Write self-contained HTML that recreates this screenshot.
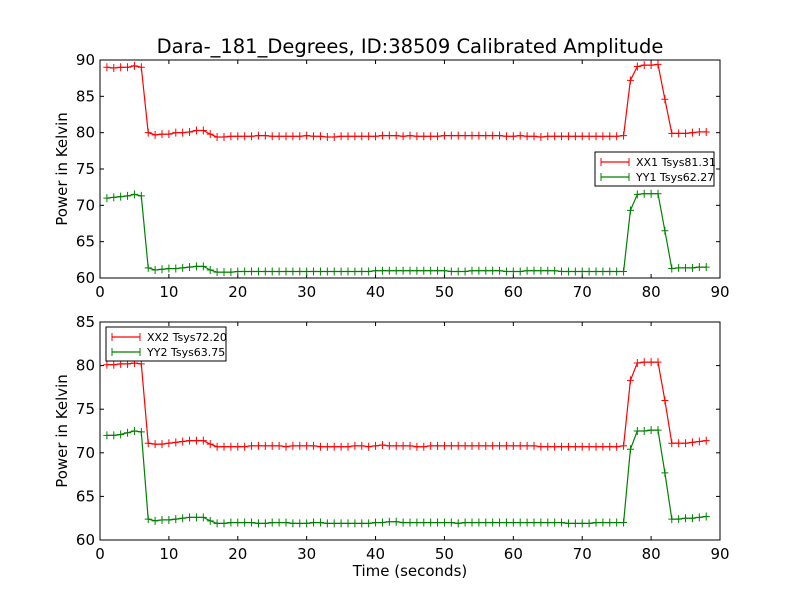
<!DOCTYPE html>
<html><head><meta charset="utf-8"><style>
body{margin:0;background:#fff;}
svg{display:block;font-family:"DejaVu Sans","Liberation Sans",sans-serif;}
</style></head><body>
<svg id="c" width="800" height="600"></svg>
<script>
const times=[1,2,3,4,5,6,7,8,9,10,11,12,13,14,15,16,17,18,19,20,21,22,23,24,25,26,27,28,29,30,31,32,33,34,35,36,37,38,39,40,41,42,43,44,45,46,47,48,49,50,51,52,53,54,55,56,57,58,59,60,61,62,63,64,65,66,67,68,69,70,71,72,73,74,75,76,77,78,79,80,81,82,83,84,85,86,87,88];
const xx1=[89.0,88.9,89.0,89.0,89.2,89.0,80.0,79.7,79.8,79.8,80.0,80.0,80.1,80.3,80.3,79.8,79.4,79.4,79.5,79.5,79.5,79.5,79.6,79.6,79.5,79.5,79.5,79.5,79.5,79.6,79.5,79.5,79.4,79.4,79.5,79.5,79.5,79.5,79.5,79.5,79.6,79.6,79.6,79.5,79.6,79.5,79.5,79.5,79.5,79.6,79.6,79.6,79.6,79.6,79.6,79.6,79.6,79.6,79.5,79.5,79.6,79.5,79.5,79.4,79.5,79.5,79.5,79.5,79.5,79.5,79.5,79.5,79.5,79.5,79.5,79.6,87.2,89.1,89.3,89.3,89.4,84.6,79.9,79.9,79.9,80.0,80.1,80.1];
const yy1=[71.0,71.1,71.2,71.3,71.5,71.3,61.4,61.1,61.2,61.3,61.3,61.4,61.5,61.6,61.6,61.1,60.8,60.8,60.8,60.9,60.9,60.9,60.9,60.9,60.9,60.9,60.9,60.9,60.9,60.9,60.9,60.9,60.9,60.9,60.9,60.9,60.9,60.9,60.9,61.0,61.0,61.0,61.0,61.0,61.0,61.0,61.0,61.0,61.0,61.0,60.9,60.9,60.9,61.0,61.0,61.0,61.0,61.0,60.9,60.9,60.9,61.0,61.0,61.0,61.0,61.0,60.9,60.9,60.9,60.9,60.9,60.9,60.9,60.9,60.9,60.9,69.3,71.5,71.6,71.6,71.6,66.5,61.3,61.4,61.4,61.4,61.5,61.5];
const xx2=[80.1,80.1,80.2,80.2,80.3,80.2,71.1,71.0,71.0,71.1,71.2,71.3,71.4,71.4,71.4,71.0,70.7,70.7,70.7,70.7,70.7,70.8,70.8,70.8,70.8,70.8,70.7,70.8,70.8,70.8,70.8,70.7,70.7,70.7,70.7,70.7,70.8,70.8,70.7,70.8,70.9,70.8,70.8,70.8,70.8,70.7,70.7,70.8,70.8,70.8,70.8,70.8,70.8,70.8,70.8,70.8,70.8,70.8,70.8,70.8,70.8,70.8,70.8,70.7,70.7,70.7,70.7,70.7,70.7,70.7,70.7,70.7,70.7,70.7,70.7,70.8,78.3,80.3,80.4,80.4,80.4,76.0,71.1,71.1,71.1,71.2,71.3,71.4];
const yy2=[72.0,72.0,72.1,72.3,72.5,72.4,62.4,62.2,62.3,62.3,62.4,62.5,62.6,62.6,62.6,62.2,61.9,61.9,62.0,62.0,62.0,62.0,61.9,61.9,62.0,62.0,62.0,61.9,61.9,61.9,62.0,62.0,61.9,61.9,61.9,61.9,61.9,61.9,61.9,62.0,62.0,62.1,62.1,62.0,62.0,62.0,62.0,62.0,62.0,62.0,62.0,61.9,62.0,62.0,62.0,62.0,62.0,62.0,62.0,62.0,62.0,62.0,62.0,62.0,62.0,62.0,62.0,61.9,61.9,61.9,61.9,62.0,62.0,62.0,62.0,62.0,70.4,72.5,72.5,72.6,72.6,67.7,62.4,62.4,62.5,62.5,62.6,62.7];
const xTicks=[0,10,20,30,40,50,60,70,80,90];
const yTicksTop=[60,65,70,75,80,85,90];
const yTicksBot=[60,65,70,75,80,85];
const NS='http://www.w3.org/2000/svg';
const svg=document.getElementById('c');
function mk(tag,attrs,parent){const e=document.createElementNS(NS,tag);for(const k in attrs)e.setAttribute(k,attrs[k]);(parent||svg).appendChild(e);return e;}
function panel(top,bottom,ymin,ymax,yticks,series,legend,name,showXTitle){
  const L=100,R=720;
  const g=mk('g',{});
  
  
  const sx=v=>L+(v-0)/(90-0)*(R-L);
  const sy=v=>bottom-(v-ymin)/(ymax-ymin)*(bottom-top);
  mk('rect',{x:L,y:top,width:R-L,height:bottom-top,fill:'#fff',stroke:'none'},g);
  xTicks.forEach(t=>{const x=sx(t);
    mk('line',{x1:x,x2:x,y1:bottom,y2:bottom-4,stroke:'#000'},g);
    mk('line',{x1:x,x2:x,y1:top,y2:top+4,stroke:'#000'},g);
    const tx=mk('text',{x:x,y:bottom+19,'font-size':15,'text-anchor':'middle'},g);tx.textContent=t;
    
    
  });
  yticks.forEach(t=>{const y=sy(t);
    mk('line',{x1:L,x2:L+4,y1:y,y2:y,stroke:'#000'},g);
    mk('line',{x1:R,x2:R-4,y1:y,y2:y,stroke:'#000'},g);
    const tx=mk('text',{x:L-5,y:y+5,'font-size':15,'text-anchor':'end'},g);tx.textContent=t;
    
    
  });
  series.forEach(s=>{
    const pts=times.map((t,i)=>sx(t).toFixed(1)+','+sy(s.data[i]).toFixed(1)).join(' ');
    const pl=mk('polyline',{points:pts,fill:'none',stroke:s.color,'stroke-width':1.2},g);
    
    
    times.forEach((t,i)=>{const x=sx(t),y=sy(s.data[i]);
      const m=mk('path',{d:`M${x-3.5},${y}H${x+3.5}M${x},${y-4}V${y+4}`,stroke:s.color,'stroke-width':1},g);
      
      
    });
  });
  mk('rect',{x:L,y:top,width:R-L,height:bottom-top,fill:'none',stroke:'#000','stroke-width':1},g);
  const yt=mk('text',{x:0,y:0,'font-size':15,'text-anchor':'middle',transform:`translate(67,${(top+bottom)/2}) rotate(-90)`},g);
  yt.textContent='Power in Kelvin';
  
  
  const lg=mk('g',{},g);
  
  
  mk('rect',{x:legend.x,y:legend.y,width:legend.w,height:34,fill:'#fff',stroke:'#000','stroke-width':1},lg);
  series.forEach((s,i)=>{const y=legend.y+10+i*15,x=legend.x+6;
    mk('line',{x1:x,x2:x+28,y1:y,y2:y,stroke:s.color,'stroke-width':1.2},lg);
    mk('path',{d:`M${x},${y-4}V${y+4}M${x+28},${y-4}V${y+4}`,stroke:s.color},lg);
    const t=mk('text',{x:x+35,y:y+4,'font-size':11},lg);t.textContent=s.label;
    
    
  });
  if(showXTitle){const t=mk('text',{x:410,y:576,'font-size':15,'text-anchor':'middle'},g);t.textContent='Time (seconds)';
    
    }
}
const title=mk('text',{x:410,y:53,'font-size':19.5,'text-anchor':'middle'});
title.textContent='Dara-_181_Degrees, ID:38509 Calibrated Amplitude';


panel(60,278,60,90,yTicksTop,[{data:xx1,color:'#ff0000',name:'xx1',label:'XX1 Tsys81.31'},{data:yy1,color:'#008000',name:'yy1',label:'YY1 Tsys62.27'}],{x:595,y:152,w:119},'top-panel',false);
panel(322,540,60,85,yTicksBot,[{data:xx2,color:'#ff0000',name:'xx2',label:'XX2 Tsys72.20'},{data:yy2,color:'#008000',name:'yy2',label:'YY2 Tsys63.75'}],{x:106,y:327,w:120},'bottom-panel',true);
</script>
</body></html>
